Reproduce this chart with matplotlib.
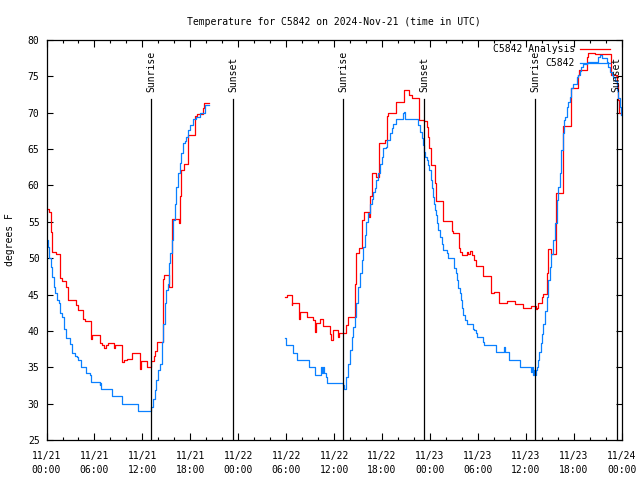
import numpy as np
import matplotlib
matplotlib.use('Agg')
import matplotlib.pyplot as plt

# hours since 2024-11-21 00:00 UTC; nan = no data
red_hours = [0.0, 0.3, 0.6, 0.7, 1.2, 1.65, 1.9, 2.5, 2.7, 3.75, 3.95, 4.6, 4.8, 5.55, 5.65,
             6.65, 6.9, 7.2, 7.45, 7.7, 8.45, 8.6, 9.5, 9.7, 10.1, 10.7, 11.7, 11.85, 12.6,
             13.1, 13.4, 13.6, 13.8, 14.55, 14.75, 15.35, 15.65, 16.6, 16.7, 16.8, 17.25,
             17.65, 18.6, 18.8, 19.55, 19.7, 20.4, 20.4,
             29.85, 30.15, 30.7, 30.75, 31.6, 31.7, 32.6, 33.4, 33.6, 33.75, 34.25, 34.55,
             35.5, 35.6, 35.9, 36.5, 36.65, 37.55, 37.7, 38.6, 38.75, 39.15, 39.55, 39.75,
             40.4, 40.55, 40.7, 41.25, 41.65, 42.35, 42.65, 42.8, 43.7, 44.7, 45.4, 45.7,
             46.65, 47.25, 47.6, 47.8, 47.9, 48.1, 48.6, 48.7, 49.65, 50.7, 50.9, 51.65,
             51.8, 52.05, 52.6, 52.75, 53.0, 53.3, 53.5, 53.75, 54.6, 55.7, 56.0, 56.65,
             57.65, 58.6, 59.7, 60.6, 61.3, 61.4, 61.55, 61.98, 62.2, 62.7, 62.8, 63.2,
             63.77, 64.6, 65.6, 65.7, 66.56, 66.7, 67.7, 67.8, 68.65, 70.6, 71.4, 71.55,
             71.7, 71.95]
red_temp = [56.8, 56.4, 53.6, 50.8, 50.6, 47.3, 46.8, 46.0, 44.3, 43.6, 42.9, 41.6, 41.3, 38.9, 39.5,
            38.3, 38.0, 37.6, 38.0, 38.4, 37.6, 38.1, 35.7, 36.0, 36.2, 37.0, 34.7, 35.8, 35.1,
            35.8, 36.5, 37.3, 38.5, 47.2, 47.7, 46.1, 55.4, 54.9, 58.5, 62.1, 62.9,
            67.0, 69.5, 69.8, 70.6, 71.3, 71.3, np.nan,
            44.7, 45.0, 43.6, 43.8, 41.7, 42.6, 41.85, 41.5, 39.9, 41.1, 41.6, 40.7,
            39.6, 38.7, 40.1, 39.1, 39.65, 40.8, 41.95, 46.5, 50.7, 51.4, 55.2, 56.3,
            55.7, 58.5, 61.7, 61.2, 65.8, 66.25, 69.55, 69.9, 71.5, 73.1, 72.4, 72.0,
            69.0, 68.85, 68.1, 66.7, 65.1, 62.8, 60.3, 57.8, 55.15, 53.8, 53.4, 51.35,
            50.9, 50.4, 50.9, 50.55, 51.0, 50.4, 49.7, 48.95, 47.6, 45.15, 45.4, 43.9,
            44.1, 43.7, 43.2, 43.4, 43.0, 43.1, 43.8, 44.7, 45.05, 47.9, 51.3, 50.6,
            58.9, 68.2, 70.8, 73.35, 75.2, 75.9, 77.7, 78.26, 78.1, 75.2, 74.0, 71.7,
            69.9, 69.9]

blue_hours = [0.0, 0.2, 0.3, 0.5, 0.7, 0.9, 1.1, 1.25, 1.55, 1.65, 1.95, 2.15, 2.4, 2.5, 2.9,
              3.2, 3.6, 3.8, 4.0, 4.3, 5.0, 5.4, 5.6, 6.65, 6.75, 6.85, 8.2, 9.45, 11.5,
              13.05, 13.35, 13.55, 13.75, 14.0, 14.2, 14.4, 14.5, 14.6, 14.8, 15.0, 15.2,
              15.3, 15.5, 15.7, 15.85, 16.05, 16.25, 16.45, 16.65, 16.85, 17.1, 17.3, 17.5,
              17.7, 17.9, 18.3, 18.75, 19.2, 19.8, 20.4, 20.4,
              29.85, 29.95, 30.8, 31.4, 32.9, 33.6, 34.3, 34.5, 34.6, 34.75, 34.95, 35.05,
              37.15, 37.25, 37.45, 37.55, 37.8, 38.0, 38.2, 38.4, 38.6, 38.8, 39.0, 39.25,
              39.45, 39.65, 39.85, 40.05, 40.3, 40.5, 40.7, 40.9, 41.1, 41.3, 41.5, 41.75,
              41.95, 42.15, 42.5, 42.65, 43.0, 43.2, 43.4, 43.8, 44.65, 44.75, 44.85, 46.35,
              46.55, 46.75, 46.95, 47.1, 47.25, 47.4, 47.6, 47.8, 47.9, 48.1, 48.2, 48.35,
              48.5, 48.6, 48.75, 48.9, 49.05, 49.25, 49.45, 49.65, 50.1, 50.2, 51.05, 51.25,
              51.4, 51.55, 51.7, 51.85, 52.0, 52.15, 52.4, 52.6, 53.35, 53.5, 53.75, 53.9,
              54.6, 54.75, 56.3, 57.25, 57.4, 57.9, 59.3, 60.6, 60.75, 60.85, 61.0, 61.1,
              61.25, 61.4, 61.55, 61.7, 61.85, 62.0, 62.2, 62.4, 62.6, 62.8, 63.0, 63.2,
              63.45, 63.65, 63.85, 64.05, 64.25, 64.45, 64.6, 64.75, 64.9, 65.1, 65.3, 65.5,
              65.7, 65.95, 66.35, 66.55, 66.75, 66.95, 67.2, 67.6, 67.8, 69.05, 69.25, 69.5,
              70.1, 70.3, 70.5, 70.75, 70.95, 71.15, 71.35, 71.55, 71.75, 71.95]
blue_temp = [52.5, 51.5, 50.0, 48.8, 47.4, 46.1, 45.2, 44.2, 43.8, 42.4, 41.9, 40.3, 39.9, 39.0, 38.2,
             36.9, 36.6, 36.4, 36.0, 35.1, 34.2, 33.9, 33.0, 32.5, 32.9, 32.0, 31.0, 30.0, 29.0,
             29.6, 30.7, 31.9, 33.2, 34.6, 35.5, 36.9, 38.5, 41.0, 43.8, 45.6, 46.5,
             49.3, 50.7, 52.5, 55.2, 57.5, 59.8, 61.7, 63.1, 64.4, 65.8, 66.05, 66.7,
             67.6, 68.3, 69.1, 69.45, 70.0, 71.05, 71.05, np.nan,
             39.0, 38.05, 36.9, 36.0, 35.06, 34.0, 35.0, 34.15, 35.0, 34.15, 33.7, 32.9,
             32.55, 31.95, 32.55, 33.7, 35.5, 37.4, 39.2, 40.6, 41.95, 43.8, 46.1, 47.9,
             49.7, 51.6, 53.2, 55.0, 56.2, 57.5, 58.2, 59.1, 59.6, 60.7, 61.7, 63.0,
             63.95, 65.1, 65.3, 66.25, 67.2, 67.85, 68.5, 69.2, 69.9, 70.1, 69.1, 69.1,
             68.3, 67.4, 66.5, 65.55, 64.6, 63.95, 63.5, 62.8, 62.1, 60.7, 59.6, 58.45,
             57.5, 56.6, 55.9, 54.8, 53.9, 52.95, 52.0, 51.1, 50.65, 50.0, 48.6, 47.9,
             47.0, 45.85, 45.15, 44.2, 43.1, 42.2, 41.5, 41.0, 40.3, 40.1, 39.65, 39.1,
             38.5, 38.05, 37.1, 37.8, 37.1, 36.0, 35.06, 34.4, 35.0, 33.9, 34.6, 34.0,
             34.6, 35.05, 36.0, 37.1, 38.3, 39.6, 41.0, 42.8, 44.7, 47.0, 48.8, 50.6,
             52.5, 54.8, 58.0, 59.8, 61.65, 64.9, 67.2, 69.0, 69.45, 70.8, 71.5, 72.2,
             73.35, 74.0, 74.95, 75.2, 75.8, 76.3, 76.7, 76.8, 77.0, 77.7, 77.9, 77.5,
             77.0, 76.3, 75.6, 75.2, 74.95, 74.3, 73.1, 72.0, 70.8, 69.7]

sun_hours = [13.12, 23.38, 37.15, 47.3, 61.2, 71.36]
sun_labels = ['Sunrise', 'Sunset', 'Sunrise', 'Sunset', 'Sunrise', 'Sunset']

tick_hours = list(range(0, 73, 6))
tick_labels = ['11/21\n00:00', '11/21\n06:00', '11/21\n12:00', '11/21\n18:00',
               '11/22\n00:00', '11/22\n06:00', '11/22\n12:00', '11/22\n18:00',
               '11/23\n00:00', '11/23\n06:00', '11/23\n12:00', '11/23\n18:00',
               '11/24\n00:00']

plt.rcParams['font.family'] = 'DejaVu Sans Mono'
plt.rcParams['font.size'] = 7

fig = plt.figure(figsize=(6.4, 4.8), dpi=100)
ax = fig.add_axes([0.0727, 0.0833, 0.8987, 0.8334])

ax.plot(red_hours, red_temp, drawstyle='steps-post', color='#ff0000', lw=0.9, label='C5842 Analysis')
ax.plot(blue_hours, blue_temp, drawstyle='steps-post', color='#0a80ff', lw=0.9, label='C5842')

for h, lab in zip(sun_hours, sun_labels):
    ax.plot([h, h], [25, 71.9], color='black', lw=0.9)
    ax.text(h, 72.8, lab, rotation=90, ha='center', va='bottom', fontsize=7)

ax.set_xlim(0, 72)
ax.set_ylim(25, 80)
ax.set_xticks(tick_hours)
ax.set_xticklabels(tick_labels, linespacing=1.5)
ax.set_xticks(range(0, 73, 2), minor=True)
ax.set_yticks(range(25, 81, 5))
ax.tick_params(axis='both', which='major', direction='in', top=True, right=True,
               length=4, width=0.8, labelsize=7)
ax.tick_params(axis='x', which='major', length=5, pad=8)
ax.tick_params(axis='y', which='major', pad=5)
ax.tick_params(axis='x', which='minor', direction='in', top=True, length=2.5, width=0.8)
for s in ax.spines.values():
    s.set_linewidth(0.9)

ax.set_title('Temperature for C5842 on 2024-Nov-21 (time in UTC)', fontsize=7, pad=11)
fig.text(0.016, 0.5, 'degrees F', rotation=90, ha='center', va='center', fontsize=7)

ax.legend(loc='upper right', bbox_to_anchor=(0.98, 0.99), frameon=False, markerfirst=False,
          handlelength=3.1, handletextpad=0.5, labelspacing=0.45, borderpad=0,
          borderaxespad=0, fontsize=7)

plt.savefig('out.png', dpi=100)
